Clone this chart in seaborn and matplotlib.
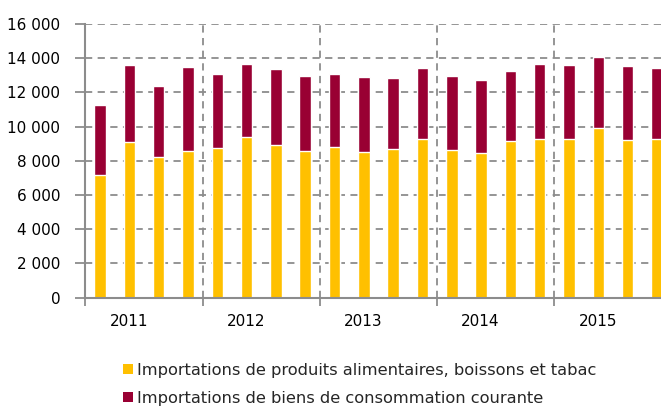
import matplotlib
matplotlib.use("Agg")
import matplotlib.pyplot as plt
import seaborn as sns
import pandas as pd
from matplotlib.patches import Patch

years = ["2011", "2012", "2013", "2014", "2015"]
quarters = [f"{y} T{q}" for y in years for q in range(1, 5)]
alimentaires = [7140, 9090, 8200, 8570, 8760, 9390, 8900, 8570,
                8800, 8490, 8680, 9270, 8630, 8430, 9130, 9290,
                9290, 9890, 9210, 9290]
total = [11240, 13580, 12350, 13470, 13100, 13660, 13370, 12980,
         13100, 12880, 12860, 13450, 12980, 12740, 13270, 13680,
         13620, 14070, 13540, 13450]
ytick_vals = [0, 2000, 4000, 6000, 8000, 10000, 12000, 14000, 16000]
ytick_labels = ["0", "2 000", "4 000", "6 000", "8 000", "10 000", "12 000", "14 000", "16 000"]
legend_labels = ["Importations de produits alimentaires, boissons et tabac",
                 "Importations de biens de consommation courante"]

YELLOW = "#FFC000"
RED = "#990033"
GRID = "#8c8c8c"

sns.set_theme(style="white")
plt.rcParams['font.family'] = ['DejaVu Sans']

df = pd.DataFrame({"q": quarters, "alim": alimentaires, "total": total})

fig = plt.figure(figsize=(6.61, 4.08), dpi=100)
ax = fig.add_axes([85.3/661, 1-297.5/408, (671.7-85.3)/661, (297.5-24)/408])

sns.barplot(data=df, x="q", y="total", order=quarters, color=RED, width=0.39,
            saturation=1, ax=ax, zorder=3)
sns.barplot(data=df, x="q", y="alim", order=quarters, color=YELLOW, width=0.39,
            saturation=1, ax=ax, zorder=3)

ax.set_xlim(-0.5, 19.5)
ax.set_ylim(0, 16000)
ax.set_yticks(ytick_vals)
ax.set_yticklabels(ytick_labels, fontsize=11)
seps = [-0.5, 3.5, 7.5, 11.5, 15.5, 19.5]
ax.set_xticks(seps)
ax.set_xticklabels([""] * len(seps))
for k, y in enumerate(years):
    ax.text(4 * k + 0.98, -0.088, y, transform=ax.get_xaxis_transform(),
            ha="center", va="center", fontsize=11, color="black")

ax.set_xlabel("")
ax.set_ylabel("")
for s in ["top", "right"]:
    ax.spines[s].set_visible(False)
for s in ["left", "bottom"]:
    ax.spines[s].set_color(GRID)
    ax.spines[s].set_linewidth(1.5)
    ax.spines[s].set_zorder(4)
ax.tick_params(axis="x", length=6, width=1.3, color=GRID, direction="out", bottom=True)
ax.tick_params(axis="y", length=7, width=1.3, color=GRID, direction="out", left=True, pad=11,
               labelcolor="black")
for v in ytick_vals[1:]:
    ax.axhline(v, color=GRID, linestyle=(0, (4, 3)), linewidth=1.3, zorder=1)
for v in seps[1:-1]:
    ax.axvline(v, color=GRID, linestyle=(0, (4, 3)), linewidth=1.3, zorder=1)

handles = [Patch(facecolor=YELLOW, edgecolor="none"), Patch(facecolor=RED, edgecolor="none")]
fig.legend(handles, legend_labels, loc="upper left", bbox_to_anchor=(116/661, 1-356/408),
           frameon=False, fontsize=11.7, handlelength=0.62, handleheight=0.62,
           handletextpad=0.28, labelspacing=0.8, borderaxespad=0)

fig.savefig("out.png", dpi=100)
